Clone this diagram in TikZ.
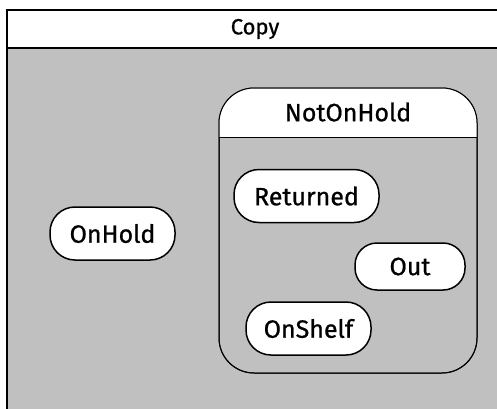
\documentclass[tikz,border=0pt]{standalone}
\usepackage{fontspec}
\setmainfont{Fira Sans}
\newfontfamily\statefont{Fira Sans}[FakeBold=0.8]
\usepackage{tikz}

\definecolor{bodygray}{RGB}{192,192,192}

\begin{document}
\begin{tikzpicture}[x=1pt,y=-1pt,
    statebox/.style={draw, line width=1.5pt, fill=white, rounded corners=25pt,
      minimum height=53pt, inner sep=2pt, font=\statefont\fontsize{25}{28}\selectfont},
    titletext/.style={font=\statefont\fontsize{25}{28}\selectfont}]
            \useasboundingbox (0,0) rectangle (497,408);
            \begin{scope}
                \clip (0,0) rectangle (497,408);
                \fill[bodygray] (7,10) rectangle (503,412);
                \fill[white] (7,10) rectangle (503,48);
                \draw[line width=2pt] (7,412) -- (7,10) -- (503,10);
                \draw[line width=1.2pt] (7,48) -- (503,48);
            \end{scope}
            \node[titletext, font=\statefont\fontsize{22}{25}\selectfont] (copy) at (255,29) {Copy};
            % composite state
            \node[draw, line width=1pt, fill=bodygray, rounded corners=35pt,
              minimum width=258pt, minimum height=285pt] (notonhold) at (348,230.5) {};
            \begin{scope}
                \clip[rounded corners=35pt] (219,88) rectangle (477,373);
                \fill[white] (219,88) rectangle (477,137);
            \end{scope}
            \draw[line width=1pt, rounded corners=35pt] (219,88) rectangle (477,373);
            \draw[line width=1pt] (219,137) -- (477,137);
            \node[titletext] (title) at (348,112) {NotOnHold};
            % simple states
            \node[statebox, minimum width=125pt] (onhold) at (112.5,233.5) {OnHold};
            \node[statebox, minimum width=145pt] (returned) at (306.5,196) {Returned};
            \node[statebox, minimum width=110pt, minimum height=47pt, rounded corners=22pt] (out) at (410,266.5) {Out};
            \node[statebox, minimum width=125pt] (onshelf) at (308.5,328.5) {OnShelf};
        \end{tikzpicture}
\end{document}
